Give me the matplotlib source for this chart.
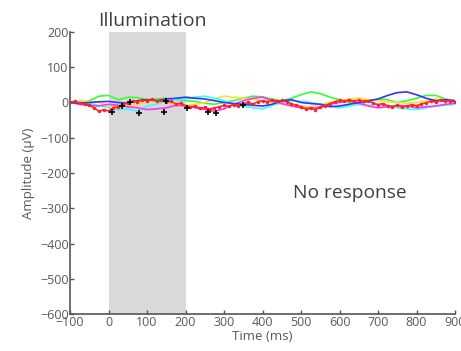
import numpy as np
import matplotlib.pyplot as plt

plt.rcParams['font.family'] = ['Open Sans', 'DejaVu Sans']

# Traces sampled every 25 ms from -100 to 900 ms (uV)
t25 = np.arange(-100, 901, 25)
green = [0, -3, 5, 18, 20, 8, 15, 14, 8, 10, 12, 8, 5, 3, -2, -5, 0, 5, 12, 18, 16,
         10, 4, 12, 22, 30, 25, 15, 8, 0, -5, 2, 10, 8, 0, 5, 12, 20, 20, 10, 5]
blue = [0, -2, 0, 2, 3, 0, -2, 5, 8, 5, 10, 12, 15, 12, 10, 5, 0, -3, -5, -8, -10,
        -5, 5, 8, 0, -3, -5, -12, -10, -5, 0, 5, 10, 20, 28, 30, 22, 12, 5, 8, 5]
cyan = [0, 2, -3, -8, -15, -20, -18, -25, -10, -5, 5, 8, 10, 15, 18, 12, 5, -5, -10, -15, -18,
        -8, 0, 5, 3, 0, -5, -10, -15, -10, -5, -8, -5, -10, -15, -18, -20, -15, -10, -8, -5]
yellow = [0, 5, 3, 0, -10, -15, -12, -5, 2, 5, 0, -5, -8, -5, 0, 10, 18, 15, 12, 10, 5,
          0, -5, -8, -10, -12, -5, 0, 5, 10, 12, 8, 5, 2, 0, -2, 0, 5, 10, 8, 5]
magenta = [0, -5, -8, -10, -5, -8, -12, -15, -20, -18, -15, -8, -10, -15, -20, -25, -18, -5, 5, 12, 15,
           5, -3, -10, -15, -18, -12, -5, 0, 5, -2, -10, -15, -12, -8, -10, -15, -12, -10, -5, -2]

# Red trace sampled every 12.5 ms (noisier)
red = [0, 3, -2, -4, -8, -15, -25, -20, -24, -15, -12, -5, -2, 4, 2, 8, 5, 9, 4, 6, 2,
       3, -4, -2, -9, -12, -10, -16, -14, -19, -15, -12, -8, -11, -6, -9, -3, 0, -4, 2, 5,
       2, 7, 4, 6, 2, -3, -8, -12, -18, -15, -20, -14, -9, -3, 2, 6, 3, 8, 4, 7,
       3, 5, -2, -6, -3, -9, -12, -8, -13, -10, -6, -9, -4, -1, 4, 1, 6, 3, 5, 2]
t_red = np.linspace(-100, 900, len(red))

# Detected peaks (black crosses)
peak_t = [8, 34, 55, 78, 143, 150, 205, 259, 278, 348]
peak_v = [-27, -10, 0, -30, -27, 4, -15, -27, -30, -7]

grey = '#595959'
fig = plt.figure(figsize=(4.61, 3.51), dpi=100)
ax = fig.add_axes([0.152, 0.105, 0.835, 0.804])

ax.axvspan(0, 200, color='#d9d9d9', lw=0, zorder=0)

ax.plot(t25, green, color='#33ff33', lw=1.2)
ax.plot(t25, yellow, color='#ffdd33', lw=1.2)
ax.plot(t25, cyan, color='#33ffff', lw=1.2)
ax.plot(t25, magenta, color='#ff33ff', lw=1.2)
ax.plot(t25, blue, color='#3333ff', lw=1.2)
ax.plot(t_red, red, color='#ff2222', lw=1.1, marker='.', ms=3)
ax.plot(peak_t, peak_v, ls='none', marker='+', color='black', ms=5, mew=1.2)

ax.set_xlim(-100, 900)
ax.set_ylim(-600, 200)
ax.set_xticks(np.arange(-100, 901, 100))
ax.set_yticks(np.arange(-600, 201, 100))

for s in ['top', 'right']:
    ax.spines[s].set_visible(False)
for s in ['left', 'bottom']:
    ax.spines[s].set_color('#555555')
    ax.spines[s].set_linewidth(1.2)

ax.tick_params(direction='in', length=3, width=1, colors='#555555',
               labelcolor=grey, labelsize=9, pad=1)
ax.set_xlabel('Time (ms)', color=grey, fontsize=9.5, labelpad=1)
ax.set_ylabel('Amplitude (µV)', color=grey, fontsize=9.5, labelpad=4)

ax.text(115, 205, 'Illumination', ha='center', va='bottom', fontsize=14, color='#404040')
ax.text(628, -257, 'No response', ha='center', va='center', fontsize=13.8, color='#404040')

fig.savefig('out.png', dpi=100)
